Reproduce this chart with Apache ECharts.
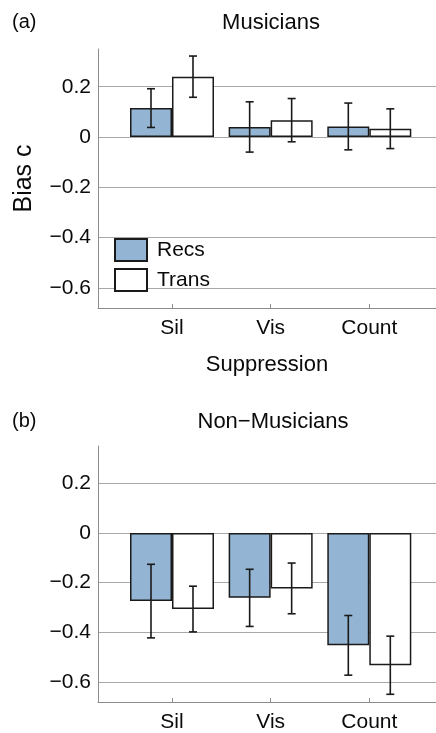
<!DOCTYPE html>
<html>
<head>
<meta charset="utf-8">
<title>Bias c by suppression condition</title>
<script src="https://cdn.jsdelivr.net/npm/echarts@6/dist/echarts.min.js"></script>
<style>
  html, body { margin: 0; padding: 0; background: #fff; }
  #chart { width: 436px; height: 733px; }
</style>
</head>
<body>
<div id="chart"></div>
<script>
// Suppression conditions along the x axis
const categories = ['Sil', 'Vis', 'Count'];
const seriesNames = ['Recs', 'Trans'];
const yTicks = [-0.6, -0.4, -0.2, 0, 0.2];

// Musicians: mean bias c and error half-widths
const musRecs = [0.115, 0.040, 0.042];
const musRecsErr = [0.077, 0.100, 0.093];
const musTrans = [0.240, 0.067, 0.033];
const musTransErr = [0.082, 0.086, 0.079];

// Non-musicians
const nonRecs = [-0.274, -0.261, -0.452];
const nonRecsErr = [0.148, 0.115, 0.120];
const nonTrans = [-0.306, -0.223, -0.532];
const nonTransErr = [0.092, 0.102, 0.117];

const FONT = '"Liberation Sans", Arial, Helvetica, sans-serif';
const TEXT = '#0a0a0a';
const BAR_W = 42;
const CAP_HALF = 4;
const BLUE = '#93b5d3';
const EDGE = '#1a1a1a';
const AXIS_GRAY = '#8c8c8c';

const fmtTick = v => {
  if (Math.abs(v) < 1e-9) return '0';
  return (v < 0 ? '\u2212' : '') + Math.abs(v).toFixed(1);
};

function xAxisFor(gridIndex, withName) {
  return {
    type: 'value', gridIndex, min: 0.25, max: 3.676,
    axisLine: { show: true, onZero: false, lineStyle: { color: AXIS_GRAY, width: 1 } },
    axisTick: { show: true, inside: true, length: 4, customValues: [1, 2, 3],
                lineStyle: { color: AXIS_GRAY } },
    axisLabel: { customValues: [1, 2, 3], formatter: v => categories[Math.round(v) - 1] || '',
                 color: TEXT, fontFamily: FONT, fontSize: 21, margin: 10 },
    splitLine: { show: false },
    name: withName ? 'Suppression' : '',
    nameLocation: 'middle', nameGap: 46,
    nameTextStyle: { color: TEXT, fontFamily: FONT, fontSize: 22 }
  };
}

function yAxisFor(gridIndex, withName) {
  return {
    type: 'value', gridIndex, min: -0.68, max: 0.35,
    axisLine: { show: true, onZero: false, lineStyle: { color: AXIS_GRAY, width: 1 } },
    axisTick: { show: false, customValues: yTicks },
    axisLabel: { customValues: yTicks, formatter: fmtTick,
                 color: TEXT, fontFamily: FONT, fontSize: 21, margin: 7 },
    splitLine: { show: true, lineStyle: { color: '#a8a8a8', width: 1 } },
    name: withName ? 'Bias c' : '',
    nameLocation: 'middle', nameGap: 61, nameRotate: 90,
    nameTextStyle: { color: TEXT, fontFamily: FONT, fontSize: 25 }
  };
}

function barSeries(name, values, axisIdx, color) {
  return {
    type: 'bar', name, xAxisIndex: axisIdx, yAxisIndex: axisIdx,
    barWidth: BAR_W, barGap: '0%',
    data: values.map((v, i) => [i + 1, v]),
    itemStyle: { color, borderColor: EDGE, borderWidth: 1.5 },
    emphasis: { disabled: true },
    z: 2
  };
}

function errorSeries(recs, recsErr, trans, transErr, axisIdx) {
  const data = [];
  recs.forEach((v, i) => data.push([i + 1, v - recsErr[i], v + recsErr[i], -1]));
  trans.forEach((v, i) => data.push([i + 1, v - transErr[i], v + transErr[i], 1]));
  return {
    type: 'custom', xAxisIndex: axisIdx, yAxisIndex: axisIdx,
    data, z: 5, silent: true,
    renderItem: (params, api) => {
      const shift = api.value(3) * BAR_W / 2;
      const lo = api.coord([api.value(0), api.value(1)]);
      const hi = api.coord([api.value(0), api.value(2)]);
      const x = lo[0] + shift;
      const style = { stroke: EDGE, lineWidth: 1.6 };
      return {
        type: 'group',
        children: [
          { type: 'line', shape: { x1: x, y1: lo[1], x2: x, y2: hi[1] }, style },
          { type: 'line', shape: { x1: x - CAP_HALF, y1: lo[1], x2: x + CAP_HALF, y2: lo[1] }, style },
          { type: 'line', shape: { x1: x - CAP_HALF, y1: hi[1], x2: x + CAP_HALF, y2: hi[1] }, style }
        ]
      };
    }
  };
}

const chart = echarts.init(document.getElementById('chart'), null, { renderer: 'canvas' });

const titleStyle = { color: TEXT, fontFamily: FONT, fontSize: 22, fontWeight: 'normal' };
const tagStyle = { color: TEXT, fontFamily: FONT, fontSize: 20, fontWeight: 'normal' };

chart.setOption({
  animation: false,
  backgroundColor: '#fff',
  textStyle: { fontFamily: FONT },
  title: [
    { text: '(a)', left: 12, top: 12, textStyle: tagStyle, padding: 0 },
    { text: 'Musicians', left: 271, top: 12, textAlign: 'center', textStyle: titleStyle, padding: 0 },
    { text: '(b)', left: 12, top: 411, textStyle: tagStyle, padding: 0 },
    { text: 'Non\u2212Musicians', left: 273, top: 411, textAlign: 'center', textStyle: titleStyle, padding: 0 }
  ],
  legend: {
    data: seriesNames,
    orient: 'vertical', left: 114, top: 238,
    itemWidth: 32, itemHeight: 22, itemGap: 6, padding: 0,
    icon: 'rect', selectedMode: false,
    textStyle: { color: TEXT, fontFamily: FONT, fontSize: 21, padding: [0, 0, 0, 5] }
  },
  grid: [
    { left: 98, right: 0, top: 49, height: 259 },
    { left: 98, right: 0, top: 446, height: 259 }
  ],
  xAxis: [xAxisFor(0, true), xAxisFor(1, false)],
  yAxis: [yAxisFor(0, true), yAxisFor(1, false)],
  series: [
    barSeries('Recs', musRecs, 0, BLUE),
    barSeries('Trans', musTrans, 0, '#ffffff'),
    errorSeries(musRecs, musRecsErr, musTrans, musTransErr, 0),
    barSeries('Recs', nonRecs, 1, BLUE),
    barSeries('Trans', nonTrans, 1, '#ffffff'),
    errorSeries(nonRecs, nonRecsErr, nonTrans, nonTransErr, 1)
  ]
});
</script>
</body>
</html>
